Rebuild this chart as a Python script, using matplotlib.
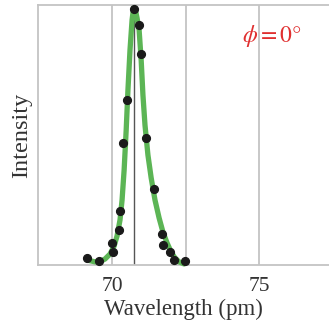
import matplotlib.pyplot as plt

plt.rcParams["font.family"] = "Liberation Serif"
plt.rcParams["mathtext.fontset"] = "stix"

# measured points
wl_pts = [69.16, 69.56, 70.02, 70.01, 70.24, 70.28, 70.37, 70.51, 70.74,
          70.92, 70.98, 71.17, 71.44, 71.70, 71.74, 71.97, 72.10, 72.47]
int_pts = [2.8, 1.5, 5.1, 8.5, 13.5, 20.9, 46.9, 63.6, 98.3,
           92.3, 81.3, 49.0, 29.1, 11.9, 7.8, 4.9, 2.0, 1.5]

# fitted curve
wl_fit = [69.15, 69.42, 69.59, 69.76, 69.93, 70.07, 70.17, 70.27, 70.34, 70.41,
          70.48, 70.54, 70.61, 70.68, 70.73, 70.78, 70.85, 70.92, 70.99, 71.05,
          71.12, 71.22, 71.33, 71.46, 71.60, 71.73, 71.87, 72.01, 72.14, 72.28, 72.45]
int_fit = [1.9, 1.2, 1.3, 2.3, 4.2, 7.3, 11.2, 17.3, 25.0, 36.5,
           51.9, 67.3, 82.7, 94.2, 98.8, 98.8, 95.0, 90.4, 78.8, 65.4,
           53.8, 42.3, 33.5, 25.0, 18.1, 12.7, 8.5, 5.0, 2.7, 1.2, 0.4]

grid_x = [70, 72.5, 75]
peak_x = 70.75

fig = plt.figure(figsize=(3.29, 3.35), dpi=100)
ax = fig.add_axes([0.1155, 0.209, 0.8845, 0.776])

for gx in grid_x:
    ax.axvline(gx, color="#c4c4c4", linewidth=1.3, zorder=1)
ax.axvline(peak_x, color="#555555", linewidth=1.0, zorder=2)

ax.plot(wl_fit, int_fit, color="#5cb555", linewidth=3.8, solid_capstyle="round",
        solid_joinstyle="round", zorder=3, clip_on=False)
ax.plot(wl_pts, int_pts, "o", color="#1a1a1a", markersize=5.6, zorder=4, clip_on=False)

ax.set_xlim(67.48, 77.38)
ax.set_ylim(0, 100)
ax.set_xticks([70, 75])
ax.set_xticklabels(["70", "75"], fontsize=15.5, color="#333333")
ax.set_yticks([])
ax.tick_params(axis="x", length=0, pad=9)

for side in ["left", "bottom", "top"]:
    ax.spines[side].set_color("#c4c4c4")
    ax.spines[side].set_linewidth(1.3)
ax.spines["right"].set_visible(False)

ax.set_xlabel("Wavelength (pm)", fontsize=16.5, color="#333333", labelpad=2)
ax.set_ylabel("Intensity", fontsize=17.5, color="#333333", labelpad=4)

ax.text(75.45, 88, r"$\phi = 0\degree$", fontsize=17, color="#e03030",
        ha="center", va="center")

plt.savefig("out.png", dpi=100)
